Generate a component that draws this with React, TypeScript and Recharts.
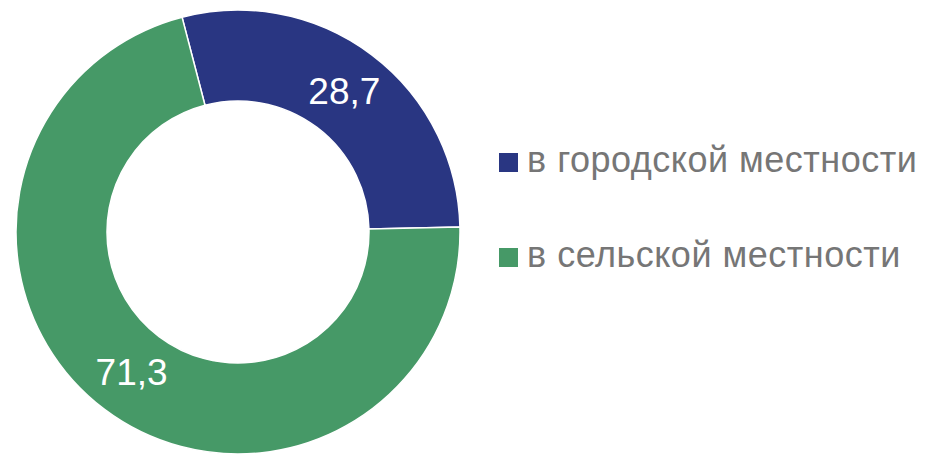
import { PieChart, Pie, Cell, Legend } from 'recharts'

const categories = ['в городской местности', 'в сельской местности']
const shares = [28.7, 71.3]
const colors = ['#293682', '#469967']

const data = categories.map((name, i) => ({ name, value: shares[i] }))

const RAD = Math.PI / 180
const START = 104.6

const FONT = '"Liberation Sans", Arial, sans-serif'

function renderLabel(props: any) {
  const { cx, cy, midAngle, innerRadius, outerRadius, value } = props
  const r = (innerRadius + outerRadius) / 2
  const x = cx + r * Math.cos(-midAngle * RAD)
  const y = cy + r * Math.sin(-midAngle * RAD)
  return (
    <text
      x={x}
      y={y}
      fill="#ffffff"
      fontSize={37}
      fontFamily={FONT}
      textAnchor="middle"
      dominantBaseline="central"
    >
      {String(value).replace('.', ',')}
    </text>
  )
}

function LegendList(props: any) {
  const { payload } = props
  return (
    <div style={{ position: 'relative', width: 427, height: 150 }}>
      {(payload || []).map((entry: any, i: number) => (
        <div key={entry.value} style={{ position: 'absolute', left: 0, top: i * 95 }}>
          <div
            style={{
              position: 'absolute',
              left: 0,
              top: 13,
              width: 19,
              height: 19,
              background: entry.color,
            }}
          />
          <span
            style={{
              position: 'absolute',
              left: 28,
              top: 0,
              whiteSpace: 'nowrap',
              fontFamily: FONT,
              fontSize: 36,
              letterSpacing: 0.5,
              lineHeight: '40px',
              color: '#767676',
            }}
          >
            {entry.value}
          </span>
        </div>
      ))}
    </div>
  )
}

export default function App() {
  return (
    <div style={{ position: 'absolute', left: 0, top: 0, background: '#fff' }}>
      <PieChart width={926} height={454} margin={{ top: 0, right: 0, bottom: 0, left: 0 }}>
        <Pie
          data={data}
          dataKey="value"
          nameKey="name"
          cx={238}
          cy={232}
          innerRadius={131}
          outerRadius={222}
          startAngle={START}
          endAngle={START - 360}
          stroke="#ffffff"
          strokeWidth={1.5}
          label={renderLabel}
          labelLine={false}
          isAnimationActive={false}
        >
          {data.map((d, i) => (
            <Cell key={d.name} fill={colors[i]} />
          ))}
        </Pie>
        <Legend
          layout="vertical"
          align="right"
          verticalAlign="top"
          content={<LegendList />}
          wrapperStyle={{ left: 499, top: 140, width: 427 }}
        />
      </PieChart>
    </div>
  )
}
